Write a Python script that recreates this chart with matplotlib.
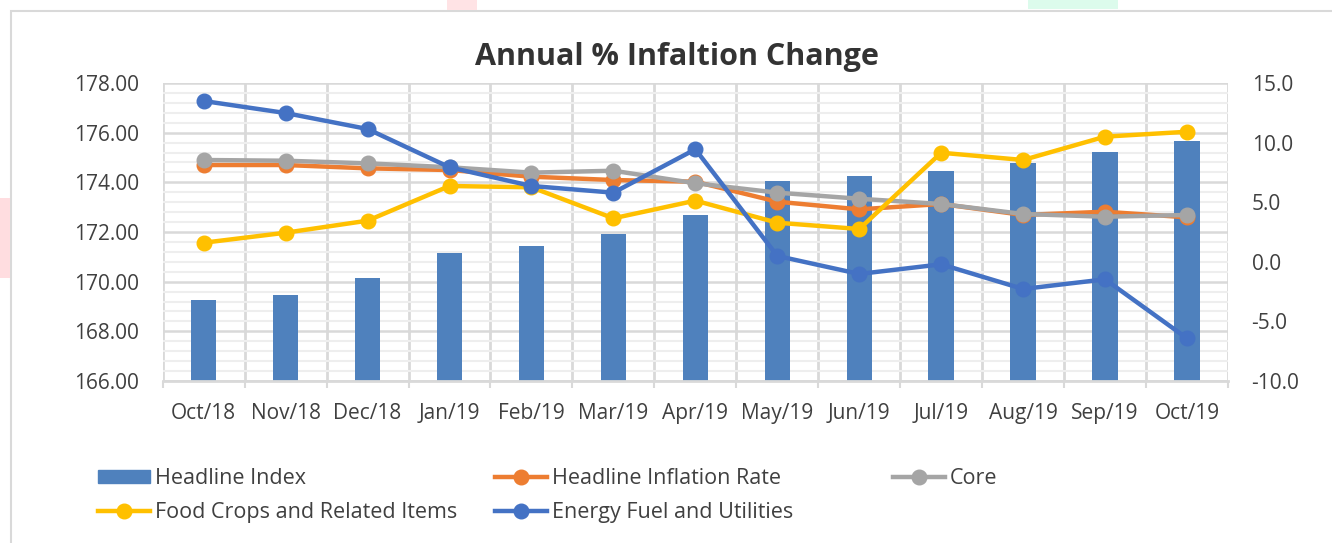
import matplotlib.pyplot as plt
from matplotlib.patches import Rectangle
from matplotlib.ticker import MultipleLocator, FixedLocator

months = ['Oct/18', 'Nov/18', 'Dec/18', 'Jan/19', 'Feb/19', 'Mar/19', 'Apr/19',
          'May/19', 'Jun/19', 'Jul/19', 'Aug/19', 'Sep/19', 'Oct/19']
headline_index = [169.26, 169.46, 170.15, 171.15, 171.44, 171.92, 172.68,
                  174.05, 174.25, 174.46, 174.78, 175.22, 175.66]
headline_rate = [8.12, 8.12, 7.84, 7.70, 7.14, 6.86, 6.72, 5.04, 4.40, 4.85, 3.93, 4.20, 3.73]
core = [8.54, 8.48, 8.26, 7.93, 7.48, 7.64, 6.59, 5.80, 5.29, 4.85, 4.01, 3.78, 3.93]
food = [1.60, 2.44, 3.45, 6.36, 6.25, 3.65, 5.13, 3.28, 2.75, 9.15, 8.54, 10.50, 10.91]
energy = [13.49, 12.48, 11.14, 7.93, 6.36, 5.80, 9.44, 0.49, -1.02, -0.21, -2.28, -1.47, -6.42]

plt.rcParams['font.family'] = ['Open Sans', 'DejaVu Sans']
txt = '#404040'
W, H = 1332, 543
fig = plt.figure(figsize=(W / 100, H / 100), dpi=100)

# chart frame and stray background bits
fig.patches.append(Rectangle((11 / W, -0.1), 1.2, 1.1 - 11 / H, transform=fig.transFigure,
                             fill=False, edgecolor='#d9d9d9', lw=1.5))
fig.patches.append(Rectangle((447 / W, 1 - 10 / H), 30 / W, 10 / H, transform=fig.transFigure,
                             facecolor='#ffe3e5', edgecolor='none'))
fig.patches.append(Rectangle((1028 / W, 1 - 9 / H), 90 / W, 9 / H, transform=fig.transFigure,
                             facecolor='#dcfbec', edgecolor='none'))
fig.patches.append(Rectangle((0, 1 - 278 / H), 10 / W, 80 / H, transform=fig.transFigure,
                             facecolor='#ffdde0', edgecolor='none'))

ax = fig.add_axes([162.7 / W, 1 - 381 / H, (1228 - 162.7) / W, (381 - 83) / H])
x = list(range(len(months)))
ax.bar(x, headline_index, width=0.31, color='#4f81bd', zorder=2)
ax.set_ylim(166, 178)
ax.set_xlim(-0.5, len(months) - 0.5)
ax.yaxis.set_major_locator(MultipleLocator(2))
ax.yaxis.set_minor_locator(MultipleLocator(0.4))
ax.xaxis.set_major_locator(FixedLocator(x))
ax.xaxis.set_minor_locator(FixedLocator([i - 0.5 for i in range(len(months) + 1)]))
ax.set_xticklabels(months)
ax.set_yticklabels([f'{v:.2f}' for v in ax.get_yticks()])
ax.set_axisbelow(True)
ax.grid(which='minor', axis='y', color='#eeeeee', lw=1.5)
ax.grid(which='major', axis='y', color='#d9d9d9', lw=1.8)
ax.grid(which='minor', axis='x', color='#d9d9d9', lw=2)
ax.tick_params(axis='y', which='both', length=0, labelsize=15, labelcolor=txt, pad=17)
ax.tick_params(axis='x', which='major', length=0, labelsize=15, labelcolor=txt, pad=15.5)
ax.tick_params(axis='x', which='minor', length=5, width=1.5, color='#d9d9d9')
for s in ['top', 'left', 'right']:
    ax.spines[s].set_visible(False)
ax.spines['bottom'].set_color('#d9d9d9')
ax.spines['bottom'].set_linewidth(2)

ax2 = ax.twinx()
ax2.set_ylim(-10, 15)
ax2.yaxis.set_major_locator(MultipleLocator(5))
ax2.set_yticklabels([f'{v:.1f}' for v in ax2.get_yticks()])
ax2.tick_params(axis='y', length=0, labelsize=15, labelcolor=txt, pad=17)
for s in ax2.spines.values():
    s.set_visible(False)

series = [('Headline Inflation Rate', headline_rate, '#ed7d31'),
          ('Core', core, '#a5a5a5'),
          ('Food Crops and Related Items', food, '#ffc000'),
          ('Energy Fuel and Utilities', energy, '#4472c4')]
handles = {}
for name, vals, col in series:
    handles[name], = ax2.plot(x, vals, color=col, lw=3.2, marker='o', markersize=10.5, zorder=3)
handles['Headline Index'] = Rectangle((0, 0), 1, 1, color='#4f81bd')

fig.text(677 / W, 1 - 57 / H, 'Annual % Infaltion Change', ha='center', va='center',
         fontsize=22, fontweight='bold', color='#333333')

cols = [(98, ['Headline Index', 'Food Crops and Related Items']),
        (495, ['Headline Inflation Rate', 'Energy Fuel and Utilities']),
        (893, ['Core'])]
for xpos, names in cols:
    fig.legend([handles[n] for n in names], names, loc='upper left',
               bbox_to_anchor=(xpos / W, 1 - 468 / H), frameon=False, fontsize=15.5,
               handlelength=2.4, handleheight=0.6, handletextpad=0.25, borderpad=0,
               borderaxespad=0, labelspacing=0.6, labelcolor=txt, numpoints=1)

fig.savefig('out.png', dpi=100)
